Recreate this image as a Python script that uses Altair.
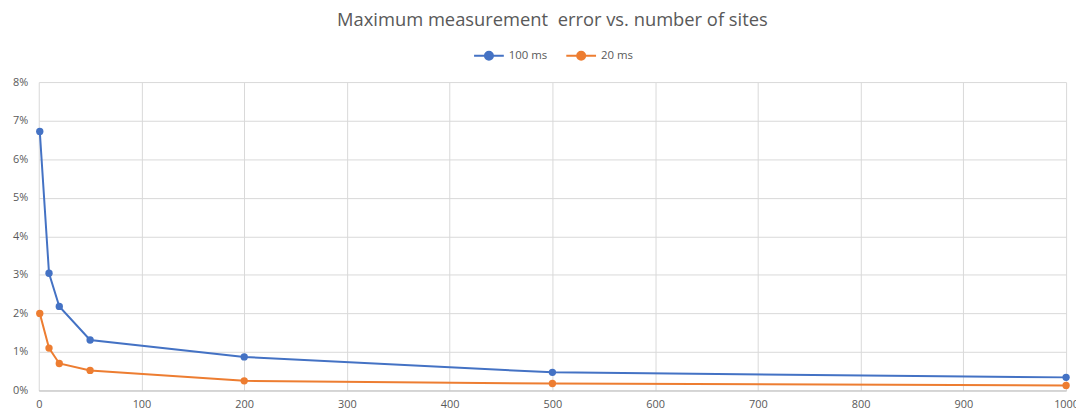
import altair as alt
import pandas as pd

sites = [1, 10, 20, 50, 200, 500, 1000]
err_100ms = [0.0672, 0.0304, 0.0218, 0.0131, 0.0087, 0.0047, 0.0034]
err_20ms = [0.0200, 0.0110, 0.0070, 0.0052, 0.0025, 0.0018, 0.0013]
series_names = ["100 ms", "20 ms"]
colors = ["#4472C4", "#ED7D31"]
x_ticks = list(range(0, 1001, 100))
y_ticks = [i / 100 for i in range(0, 9)]

rows = []
for s, vals in zip(series_names, [err_100ms, err_20ms]):
    for x, v in zip(sites, vals):
        rows.append({"sites": x, "error": v, "series": s})
df = pd.DataFrame(rows)

legend_path = ("M-1,0H1M-0.27,0A0.27,0.27,0,1,0,0.27,0A0.27,0.27,0,1,0,-0.27,0Z")

base = alt.Chart(df).encode(
    x=alt.X("sites:Q", scale=alt.Scale(domain=[0, 1000], nice=False),
            axis=alt.Axis(values=x_ticks, format="d", title=None, grid=True, ticks=False,
                          labelPadding=8, domainColor="#bfbfbf", labelFlush=False)),
    y=alt.Y("error:Q", scale=alt.Scale(domain=[0, 0.08], nice=False),
            axis=alt.Axis(values=y_ticks, format=".0%", title=None, grid=True,
                          ticks=False, domain=False, labelPadding=11)),
    color=alt.Color("series:N", scale=alt.Scale(domain=series_names, range=colors),
                    legend=alt.Legend(title=None, orient="none", direction="horizontal",
                                      legendX=438, legendY=-43,
                                      symbolType=legend_path, symbolSize=900,
                                      symbolStrokeWidth=2, symbolOpacity=1,
                                      labelFontSize=11.5, labelColor="#595959",
                                      columnPadding=15, labelOffset=4)),
)

lines = base.mark_line(strokeWidth=2)
points = base.mark_circle(size=55, opacity=1)

chart = (lines + points).properties(
    width=1036, height=311,
    title=alt.TitleParams("Maximum measurement\u00a0 error vs. number of sites",
                          fontSize=18.5, fontWeight="normal", color="#595959",
                          anchor="middle", offset=10),
    autosize=alt.AutoSizeParams(type="none"),
    padding={"left": 31, "top": 73, "right": 10, "bottom": 20},
).configure(font="Open Sans").configure_axis(
    labelColor="#595959", labelFontSize=11, gridColor="#d9d9d9", gridWidth=1
).configure_view(stroke=None)

chart.save("out.html", embed_options={"renderer": "svg", "actions": False})
